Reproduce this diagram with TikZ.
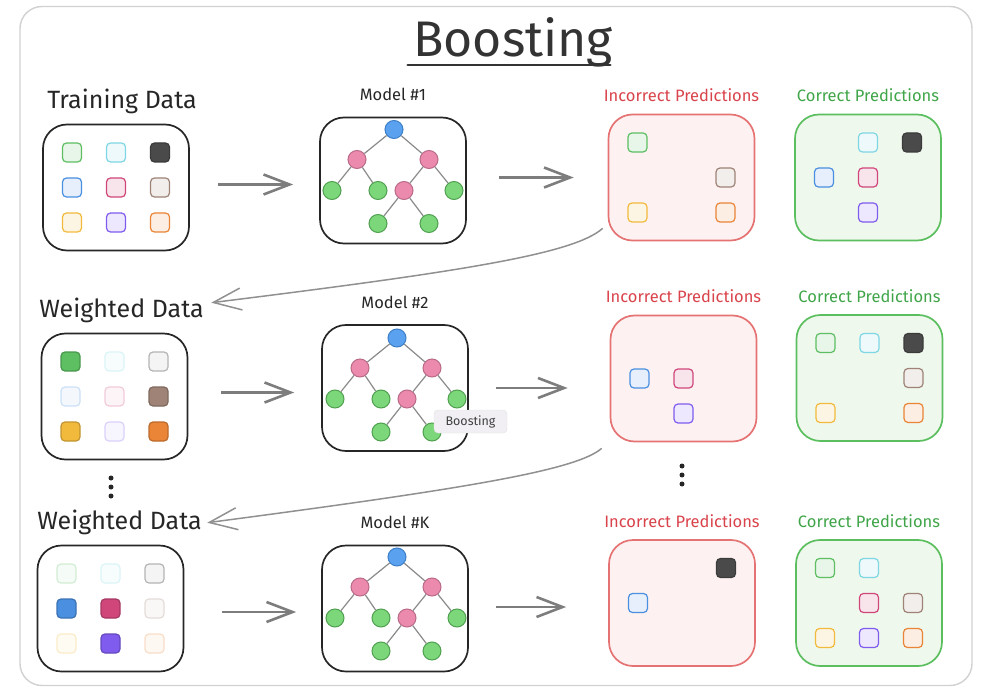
\documentclass[tikz,border=0pt]{standalone}
\usepackage{fontspec}
\setmainfont{Fira Sans}
\usetikzlibrary{positioning, arrows.meta, calc}

% palette
\definecolor{cgreen}{HTML}{5DBE62}
\definecolor{ccyan}{HTML}{7FD6E4}
\definecolor{cblue}{HTML}{4A8FE0}
\definecolor{cpink}{HTML}{D0467A}
\definecolor{cbrown}{HTML}{9E8376}
\definecolor{cyellow}{HTML}{F2BA3C}
\definecolor{cpurple}{HTML}{7F5BEE}
\definecolor{corange}{HTML}{EA8437}
\definecolor{cgray}{HTML}{B4B4B4}
\definecolor{cink}{HTML}{4A4A4A}
\definecolor{badline}{HTML}{E57373}
\definecolor{badfill}{HTML}{FDF2F1}
\definecolor{badtext}{HTML}{D9434B}
\definecolor{goodline}{HTML}{5CBF5F}
\definecolor{goodfill}{HTML}{EFF8ED}
\definecolor{goodtext}{HTML}{3FA548}
\definecolor{arrowgray}{HTML}{7D7D7D}
\definecolor{rootfill}{HTML}{5AA2F0}
\definecolor{rootline}{HTML}{3C7FC6}
\definecolor{splitfill}{HTML}{EC8AAE}
\definecolor{splitline}{HTML}{B96A88}
\definecolor{leaffill}{HTML}{7CD77A}
\definecolor{leafline}{HTML}{50A050}
\definecolor{edgegray}{HTML}{8A8A8A}
\definecolor{tipfill}{HTML}{F1EFF3}

\tikzset{
  outerframe/.style={draw=black!18, line width=1.4pt, rounded corners=22pt, minimum width=952pt, minimum height=679pt},
  headline/.style={font=\fontsize{50}{54}\selectfont, text=black!80},
  databox/.style={draw=black!85, line width=1.7pt, rounded corners=24pt, minimum width=146pt, minimum height=126pt, inner sep=0pt},
  badbox/.style={databox, draw=badline, fill=badfill},
  goodbox/.style={databox, draw=goodline, fill=goodfill},
  heading/.style={font=\fontsize{25}{27}\selectfont, text=black!85},
  tag/.style={font=\fontsize{16.5}{18}\selectfont, text=black!85},
  badtag/.style={tag, text=badtext},
  goodtag/.style={tag, text=goodtext},
  cell/.style={draw=#1, fill=#1!14, line width=1.2pt, rounded corners=4pt, minimum size=19pt, inner sep=0pt},
  solidcell/.style={cell=#1, fill=#1, draw=#1!80!black},
  faintcell/.style={cell=#1, draw=#1!28, fill=#1!6},
  tnode/.style={circle, minimum size=18pt, inner sep=0pt, line width=1pt},
  troot/.style={tnode, fill=rootfill, draw=rootline},
  tsplit/.style={tnode, fill=splitfill, draw=splitline},
  tleaf/.style={tnode, fill=leaffill, draw=leafline},
  tedge/.style={draw=edgegray, line width=1.2pt},
  flow/.style={draw=arrowgray, line width=2.6pt, -{Straight Barb[length=26pt, width=20pt]}},
  back/.style={draw=arrowgray!85, line width=1.5pt, -{Straight Barb[length=28pt, width=22pt]}},
  hovertip/.style={draw=black!12, fill=tipfill, rounded corners=4pt, font=\fontsize{12.5}{14}\selectfont, text=black!75, minimum width=73pt, minimum height=23pt, inner sep=0pt},
  dtree/.pic={
    \node[troot] (-r) at (0,0) {};
    \node[tsplit] (-a) at (-37,30) {};
    \node[tsplit] (-b) at (35,30) {};
    \node[tleaf] (-c) at (-62,61) {};
    \node[tleaf] (-d) at (-16,61) {};
    \node[tsplit] (-e) at (10,61) {};
    \node[tleaf] (-f) at (60,61) {};
    \node[tleaf] (-g) at (-16,94) {};
    \node[tleaf] (-h) at (35,94) {};
    \path[tedge] (-r) -- (-a) (-r) -- (-b) (-a) -- (-c) (-a) -- (-d)
                 (-b) -- (-e) (-b) -- (-f) (-e) -- (-g) (-e) -- (-h);
  }
}

% squares on a 3x3 grid inside a box
\newcommand\putcells[3]{%
  \foreach \c/\i/\j in {#3}
    \node[#2=\c] (#1-\c) at ($(#1)+(\i*44,\j*35)$) {};}

\begin{document}
\begin{tikzpicture}[x=1pt, y=-1pt]
  \useasboundingbox (0,0) rectangle (984,692);
  \node[outerframe] (frame) at (496,346) {};
  \node[headline] (title) at (513,42) {Boosting};
  \draw[black!80, line width=2.6pt, line cap=round]
    ($(title.base west)+(-2,9)$) -- ($(title.base east)+(-6,9)$);

  % first round
  \node[databox] (d1) at (116,187.5) {};
  \node[databox] (m1) at (393,180.5) {};
  \node[badbox] (p1) at (681.5,177.5) {};
  \node[goodbox] (c1) at (868,177.5) {};
  \node[heading, above=6pt of d1, xshift=6pt] (w1) {Training Data};
  \node[tag, above=12pt of m1] (n1) {Model \#1};
  \node[badtag, above=8pt of p1] (b1) {Incorrect Predictions};
  \node[goodtag, above=8pt of c1] (g1) {Correct Predictions};
  \pic (t1) at ($(m1)+(1,-51)$) {dtree};
  \putcells{d1}{cell}{cgreen/-1/-1, ccyan/0/-1, cblue/-1/0, cpink/0/0, cbrown/1/0, cyellow/-1/1, cpurple/0/1, corange/1/1}
  \putcells{d1}{solidcell}{cink/1/-1}
  \putcells{p1}{cell}{cgreen/-1/-1, cbrown/1/0, cyellow/-1/1, corange/1/1}
  \putcells{c1}{cell}{ccyan/0/-1, cblue/-1/0, cpink/0/0, cpurple/0/1}
  \putcells{c1}{solidcell}{cink/1/-1}
  \draw[flow] ($(d1.east)+(28,-3)$) -- ($(m1.west |- d1.east)+(-26,-3)$);
  \draw[flow] ($(m1.east |- p1.west)+(32,0)$) -- ($(p1.west)+(-34,0)$);

  % second round
  \node[databox] (d2) at (114.5,396.5) {};
  \node[databox] (m2) at (395,388) {};
  \node[badbox] (p2) at (683.5,378.5) {};
  \node[goodbox] (c2) at (869.5,378) {};
  \node[heading, above=6pt of d2, xshift=7pt] (w2) {Weighted Data};
  \node[tag, above=12pt of m2] (n2) {Model \#2};
  \node[badtag, above=8pt of p2] (b2) {Incorrect Predictions};
  \node[goodtag, above=8pt of c2] (g2) {Correct Predictions};
  \pic (t2) at ($(m2)+(2,-50)$) {dtree};
  \putcells{d2}{solidcell}{cgreen/-1/-1, cbrown/1/0, cyellow/-1/1, corange/1/1}
  \putcells{d2}{faintcell}{ccyan/0/-1, cblue/-1/0, cpink/0/0, cpurple/0/1}
  \putcells{d2}{cell}{cgray/1/-1}
  \putcells{p2}{cell}{cblue/-1/0, cpink/0/0, cpurple/0/1}
  \putcells{c2}{cell}{cgreen/-1/-1, ccyan/0/-1, cbrown/1/0, cyellow/-1/1, corange/1/1}
  \putcells{c2}{solidcell}{cink/1/-1}
  \draw[flow] ($(d2.east)+(33,-4)$) -- ($(m2.west |- d2.east)+(-27,-4)$);
  \draw[flow] ($(m2.east)+(27,0)$) -- ($(p2.west |- m2.east)+(-42,0)$);
  \node[hovertip] (hint) at (470.5,421.5) {Boosting};

  % last round
  \node[databox] (d3) at (110.5,608.5) {};
  \node[databox] (m3) at (395,608.5) {};
  \node[badbox] (p3) at (682,603) {};
  \node[goodbox] (c3) at (869,603) {};
  \node[heading, above=6pt of d3, xshift=9pt] (w3) {Weighted Data};
  \node[tag, above=12pt of m3] (n3) {Model \#K};
  \node[badtag, above=8pt of p3] (b3) {Incorrect Predictions};
  \node[goodtag, above=8pt of c3] (g3) {Correct Predictions};
  \pic (t3) at ($(m3)+(2,-51.5)$) {dtree};
  \putcells{d3}{faintcell}{cgreen/-1/-1, ccyan/0/-1, cbrown/1/0, cyellow/-1/1, corange/1/1}
  \putcells{d3}{cell}{cgray/1/-1}
  \putcells{d3}{solidcell}{cblue/-1/0, cpink/0/0, cpurple/0/1}
  \putcells{p3}{solidcell}{cink/1/-1}
  \putcells{p3}{cell}{cblue/-1/0}
  \putcells{c3}{cell}{cgreen/-1/-1, ccyan/0/-1, cpink/0/0, cbrown/1/0, cyellow/-1/1, cpurple/0/1, corange/1/1}
  \draw[flow] ($(d3.east)+(38,3.5)$) -- ($(m3.west |- d3.east)+(-25,3.5)$);
  \draw[flow] ($(m3.east |- p3.west)+(27,4)$) -- ($(p3.west)+(-42,4)$);

  % feedback of the wrong ones
  \draw[back] ($(p1.south west)+(-5,-13)$) .. controls +(-28,25) and +(258,-32) .. ($(w2.east)+(4,-8)$);
  \draw[back] ($(p2.south west)+(-8,6)$) .. controls +(-25,22) and +(258,-34) .. ($(w3.east)+(2,0)$);

  % more rounds
  \foreach \k in {0,1,2} {
    \fill[black!85] (111,478+9*\k) circle (2.5pt);
    \fill[black!85] (682,466+9*\k) circle (2.5pt);
  }
\end{tikzpicture}
\end{document}
